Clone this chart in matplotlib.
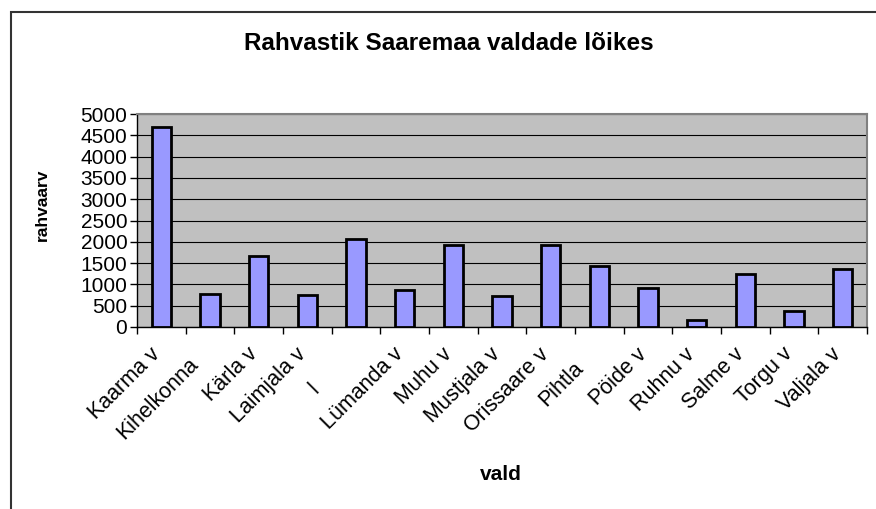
import numpy as np
import matplotlib.pyplot as plt
import matplotlib.transforms as mtransforms
from matplotlib.patches import Rectangle

plt.rcParams['font.family'] = ['Liberation Sans', 'DejaVu Sans']

# andmed (loetud pildilt)
vallad = ['Kaarma v', 'Kihelkonna', 'Kärla v', 'Laimjala v', 'l', 'Lümanda v', 'Muhu v',
          'Mustjala v', 'Orissaare v', 'Pihtla', 'Pöide v', 'Ruhnu v', 'Salme v', 'Torgu v',
          'Valjala v']
rahvaarv = [4690, 785, 1660, 745, 2055, 865, 1920, 720, 1920, 1435, 925, 155, 1255, 375, 1355]
y_ticks = np.arange(0, 5001, 500)

W, H = 876, 509
fig = plt.figure(figsize=(W / 100, H / 100), dpi=100)

# raam ümber joonise (paremal ja all lõigatud)
fig.patches.append(Rectangle((11 / W, -0.05), 1.1, 1 - 12 / H + 0.05, transform=fig.transFigure,
                             fill=False, edgecolor='#333333', linewidth=1.5))

ax = fig.add_axes([137 / W, 1 - 327 / H, 730 / W, 213 / H])
ax.set_facecolor('#C0C0C0')

x = np.arange(len(vallad))
ax.bar(x, rahvaarv, width=0.4, color='#9999FF', edgecolor='black', linewidth=2.0, zorder=3)

ax.set_xlim(-0.5, len(vallad) - 0.5)
ax.set_ylim(0, 5000)
ax.set_yticks(y_ticks)
ax.yaxis.grid(True, color='black', linewidth=0.8)
ax.set_axisbelow(True)

for s in ['top', 'right']:
    ax.spines[s].set_color('#808080')
    ax.spines[s].set_linewidth(1.5)
for s in ['left', 'bottom']:
    ax.spines[s].set_color('black')
    ax.spines[s].set_linewidth(1.0)

# tikid kategooriate vahel, sildid keskel
ax.set_xticks(np.arange(-0.5, len(vallad), 1))
ax.set_xticklabels([])
ax.set_xticks(x, minor=True)
ax.set_xticklabels(vallad, minor=True, rotation=45, ha='right', va='top',
                   rotation_mode='anchor', fontsize=15.5)
ax.tick_params(axis='x', which='major', direction='out', length=5, width=1)
ax.tick_params(axis='x', which='minor', length=0, pad=12)
ax.tick_params(axis='y', direction='out', length=5, width=1, labelsize=15, pad=2)

# kärbitud sildid nihkuvad diagonaalis alla-vasakule
nihe = {1: 14, 4: 50, 9: 20}
for i, lab in enumerate(ax.get_xticklabels(minor=True)):
    d = nihe.get(i, 0) / np.sqrt(2)
    off = mtransforms.ScaledTranslation((-12 - d) / 100, -d / 100, fig.dpi_scale_trans)
    lab.set_transform(lab.get_transform() + off)

fig.text(449 / W, 1 - 44 / H, 'Rahvastik Saaremaa valdade lõikes', ha='center', va='center',
         fontsize=17.5, fontweight='bold')
fig.text(42 / W, 1 - 205 / H, 'rahvaarv', rotation=90, ha='center', va='center',
         fontsize=12.5, fontweight='bold')
fig.text(501 / W, 1 - 474 / H, 'vald', ha='center', va='center', fontsize=15, fontweight='bold')

plt.savefig('out.png', dpi=100)
